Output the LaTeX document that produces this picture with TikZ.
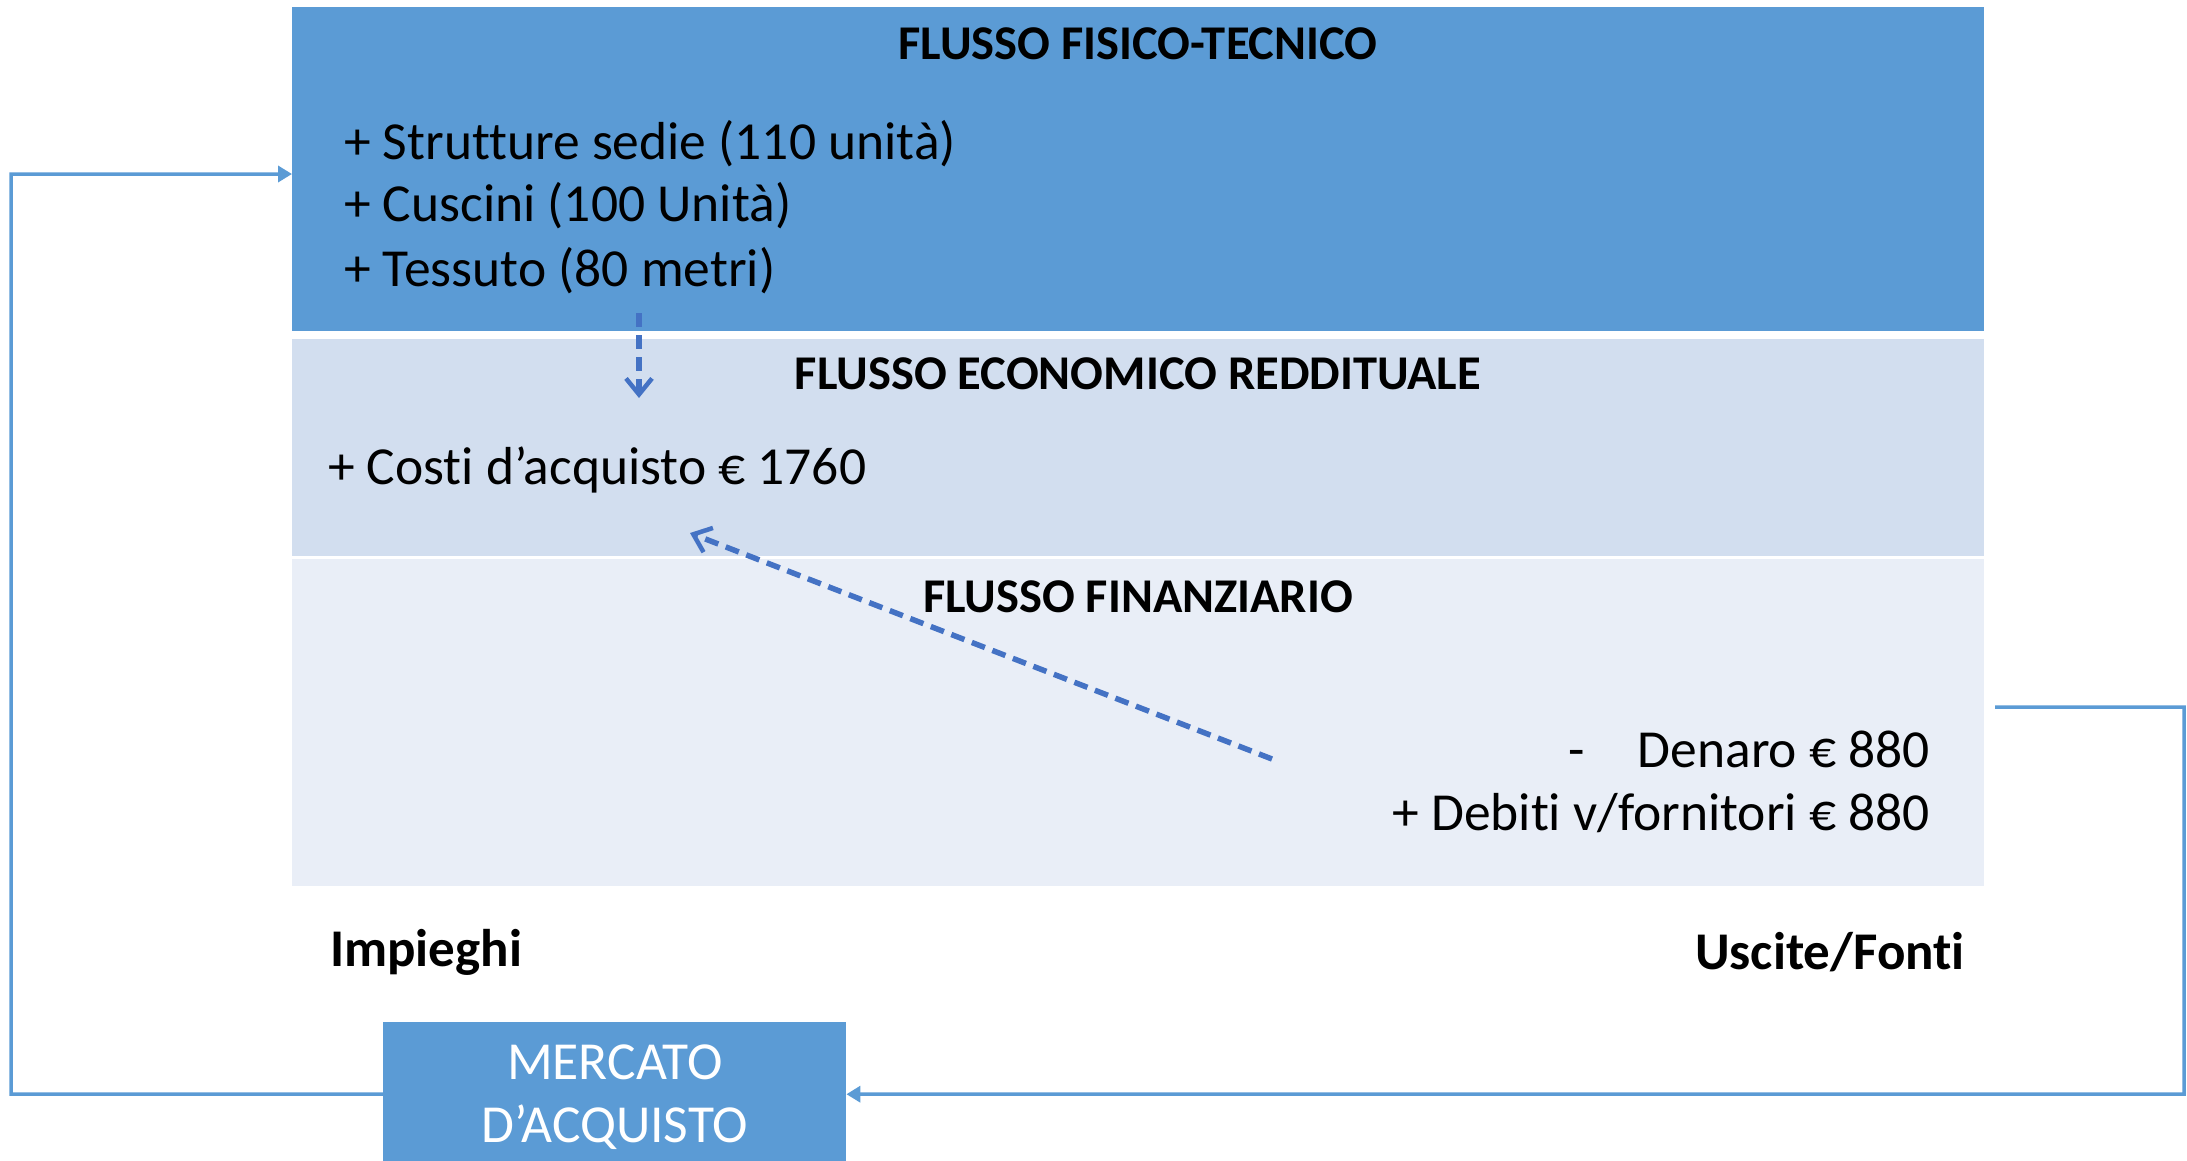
\documentclass[tikz,border=0pt]{standalone}
\usepackage{fontspec}
\setmainfont{Carlito}[Ligatures=NoCommon]
\usetikzlibrary{arrows.meta}
\definecolor{mblue}{HTML}{5B9BD5}
\definecolor{econ}{HTML}{D2DEEF}
\definecolor{fin}{HTML}{E9EEF7}
\definecolor{dblue}{HTML}{4472C4}
\tikzset{
  panel/.style={rectangle, inner sep=0pt, anchor=north west, draw=none},
  head/.style={font=\fontsize{48.5}{54}\selectfont\bfseries, inner sep=0pt, anchor=base},
  body/.style={font=\fontsize{53.5}{62}\selectfont, inner sep=0pt},
  side/.style={font=\fontsize{53}{60}\selectfont\bfseries, inner sep=0pt},
  conn/.style={draw=mblue, line width=3.5pt},
  dasharrow/.style={draw=dblue, line width=5.5pt, dash pattern=on 14pt off 8pt, -{Straight Barb[length=16pt,width=26pt,line width=4.5pt]}}
}
\begin{document}
\begin{tikzpicture}[x={(1pt,0)}, y={(0,-1pt)}]
\useasboundingbox (0,0) rectangle (2187,1160);
\clip (0,0) rectangle (2187,1160);
% panels
\node[panel, fill=mblue, minimum width=1692pt, minimum height=324pt] (top) at (292,7) {};
\node[panel, fill=econ, minimum width=1692pt, minimum height=217pt] (eco) at (292,339) {};
\node[panel, fill=fin, minimum width=1692pt, minimum height=327pt] (fin) at (292,559) {};
\node[panel, fill=mblue, minimum width=463pt, minimum height=144pt] (merc) at (383,1022) {};
% headings
\node[head] (h1) at (1138,59) {FLUSSO FISICO-TECNICO};
\node[head] (h2) at (1138,389) {FLUSSO ECONOMICO REDDITUALE};
\node[head] (h3) at (1138,612) {FLUSSO FINANZIARIO};
% body text
\node[body, anchor=base west] (t1) at (344,159) {+ Strutture sedie (110 unità)};
\node[body, anchor=base west] (t2) at (344,221) {+ Cuscini (100 Unità)};
\node[body, anchor=base west] (t3) at (344,286) {+ Tessuto (80 metri)};
\node[body, anchor=base west] (c1) at (328,484) {+ Costi d’acquisto € 1760};
\node[body, anchor=base] (f0) at (1577,767) {-};
\node[body, anchor=base east] (f1) at (1930,767) {Denaro € 880};
\node[body, anchor=base east] (f2) at (1930,830) {+ Debiti v/fornitori € 880};
\node[side, anchor=base west] (imp) at (330,966) {Impieghi};
\node[side, anchor=base east] (usc) at (1965,969) {Uscite/Fonti};
\node[body, text=white, anchor=base] (m1) at (615,1079) {MERCATO};
\node[body, text=white, anchor=base] (m2) at (615,1142) {D’ACQUISTO};
% connectors
\coordinate (lc) at (11,1094);
\coordinate (lt) at (11,174);
\draw[conn, -{Triangle[length=14pt,width=16pt]}] (merc.west) -- (lc) -- (lt) -- (lt -| top.west);
\coordinate (rs) at (1995,707);
\coordinate (rt) at (2184,707);
\coordinate (rb) at (2184,1094);
\draw[conn, -{Triangle[length=14pt,width=16pt]}] (rs) -- (rt) -- (rb) -- (merc.east);
\coordinate (d1) at (639,313);
\coordinate (d2) at (639,398);
\draw[dasharrow] (d1) -- (d2);
\coordinate (g1) at (1272,759);
\coordinate (g2) at (690,533);
\draw[dasharrow] (g1) -- (g2);
\end{tikzpicture}
\end{document}
